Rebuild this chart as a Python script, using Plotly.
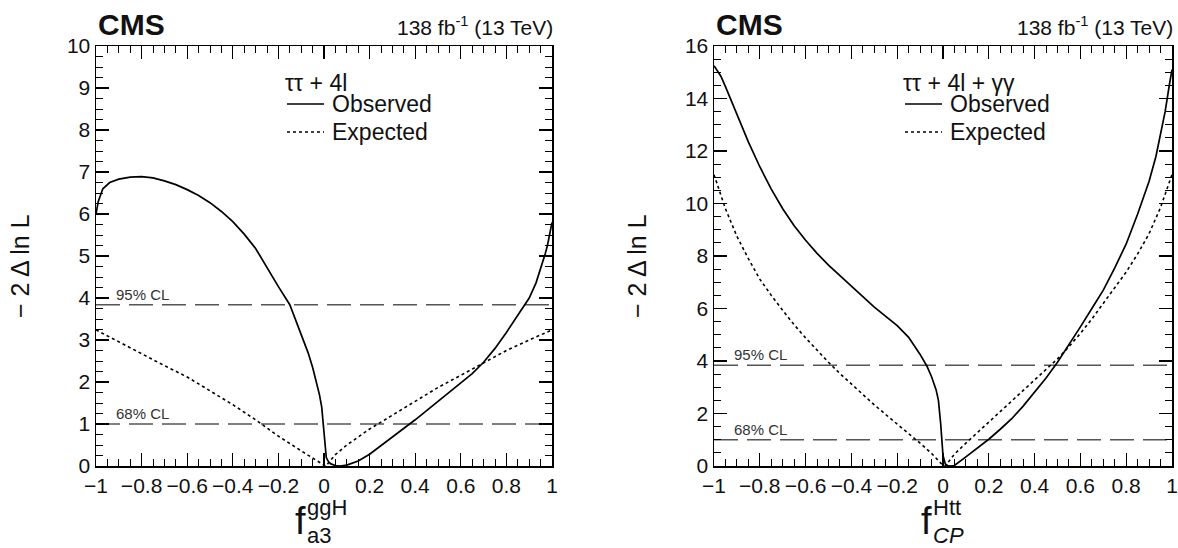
import plotly.graph_objects as go
from plotly.subplots import make_subplots

# ---------------- data ----------------
# Left panel: f_a3^ggH scan (tautau + 4l)
left_obs_x = [-1.0, -0.99, -0.97, -0.94, -0.9, -0.85, -0.8, -0.75, -0.7, -0.65, -0.6, -0.55, -0.5,
              -0.45, -0.4, -0.35, -0.3, -0.25, -0.2, -0.15, -0.1, -0.07, -0.05, -0.03, -0.02, -0.01,
              -0.005, 0.0, 0.005, 0.01, 0.02, 0.03, 0.05, 0.07, 0.1, 0.15, 0.2, 0.25, 0.3, 0.35,
              0.4, 0.45, 0.5, 0.55, 0.6, 0.65, 0.7, 0.75, 0.8, 0.85, 0.9, 0.93, 0.95, 0.97, 0.98,
              0.99, 1.0]
left_obs_y = [6.0, 6.3, 6.6, 6.75, 6.83, 6.88, 6.89, 6.86, 6.79, 6.7, 6.58, 6.44, 6.27,
              6.06, 5.82, 5.52, 5.18, 4.72, 4.27, 3.84, 3.15, 2.7, 2.35, 1.95, 1.7, 1.4,
              1.1, 0.7, 0.35, 0.2, 0.1, 0.05, 0.01, 0.0, 0.02, 0.12, 0.28, 0.48, 0.7, 0.9,
              1.1, 1.32, 1.54, 1.76, 1.98, 2.2, 2.47, 2.8, 3.18, 3.58, 4.0, 4.36, 4.68, 5.05, 5.25,
              5.5, 5.8]
left_exp_x = [-1.0, -0.9, -0.8, -0.7, -0.6, -0.5, -0.4, -0.3, -0.2, -0.1, -0.05, 0.0, 0.01,
              0.02, 0.05, 0.1, 0.2, 0.3, 0.4, 0.5, 0.6, 0.7, 0.8, 0.9, 1.0]
left_exp_y = [3.24, 2.95, 2.66, 2.39, 2.12, 1.8, 1.46, 1.1, 0.71, 0.36, 0.18, 0.02, 0.0,
              0.08, 0.27, 0.5, 0.88, 1.21, 1.54, 1.87, 2.16, 2.45, 2.75, 3.0, 3.24]

# Right panel: f_CP^Htt scan (tautau + 4l + gammagamma)
right_obs_x = [-1.0, -0.97, -0.95, -0.9, -0.85, -0.8, -0.75, -0.7, -0.65, -0.6, -0.55, -0.5,
               -0.45, -0.4, -0.35, -0.3, -0.25, -0.2, -0.15, -0.1, -0.07, -0.05, -0.03, -0.02,
               -0.01, -0.005, 0.0, 0.01, 0.02, 0.03, 0.05, 0.1, 0.15, 0.2, 0.25, 0.3, 0.35, 0.4,
               0.45, 0.5, 0.55, 0.6, 0.65, 0.7, 0.75, 0.8, 0.85, 0.9, 0.93, 0.95, 0.97, 0.99, 1.0]
right_obs_y = [15.25, 14.85, 14.45, 13.4, 12.35, 11.4, 10.55, 9.8, 9.15, 8.6, 8.1, 7.65,
               7.25, 6.85, 6.45, 6.05, 5.7, 5.35, 4.9, 4.25, 3.8, 3.4, 2.9, 2.5,
               1.6, 1.0, 0.4, 0.08, 0.02, 0.0, 0.02, 0.35, 0.68, 1.02, 1.4, 1.8, 2.28, 2.8,
               3.35, 3.95, 4.6, 5.3, 6.0, 6.7, 7.55, 8.46, 9.6, 10.85, 11.8, 12.6, 13.5, 14.6, 15.1]
right_exp_x = [-1.0, -0.97, -0.95, -0.9, -0.85, -0.8, -0.75, -0.7, -0.65, -0.6, -0.55, -0.5,
               -0.45, -0.4, -0.35, -0.3, -0.25, -0.2, -0.15, -0.1, -0.05, -0.02, 0.0, 0.01,
               0.02, 0.05, 0.1, 0.15, 0.2, 0.25, 0.3, 0.35, 0.4, 0.45, 0.5, 0.55, 0.6, 0.65,
               0.7, 0.75, 0.8, 0.85, 0.9, 0.95, 1.0]
right_exp_y = [11.1, 10.3, 9.8, 8.75, 7.9, 7.12, 6.5, 5.93, 5.38, 4.88, 4.4, 3.95,
               3.52, 3.12, 2.72, 2.33, 1.96, 1.6, 1.22, 0.87, 0.48, 0.2, 0.02, 0.0,
               0.12, 0.45, 0.87, 1.27, 1.66, 2.06, 2.46, 2.86, 3.26, 3.66, 4.08, 4.55, 5.05, 5.6,
               6.19, 6.78, 7.39, 8.08, 8.85, 9.85, 11.1]

cl_levels = [1.0, 3.84]
cl_labels = ["68% CL", "95% CL"]
x_range = [-1.0, 1.0]
x_tickvals = [-1.0, -0.8, -0.6, -0.4, -0.2, 0.0, 0.2, 0.4, 0.6, 0.8, 1.0]
x_ticktext = ["\u22121", "\u22120.8", "\u22120.6", "\u22120.4", "\u22120.2", "0",
              "0.2", "0.4", "0.6", "0.8", "1"]
left_yrange = [0, 10]
right_yrange = [0, 16]
legend_titles = ["\u03c4\u03c4 + 4l", "\u03c4\u03c4 + 4l + \u03b3\u03b3"]
series_names = ["Observed", "Expected"]

# ---------------- figure ----------------
W, H = 1178, 548
FONT = "Liberation Sans, Arial, Helvetica, sans-serif"
TXT = "#111111"
MT, MB = 46, H - 466
PH = H - MT - MB


def px(x):
    return x / W


def py(y):
    return (H - MB - y) / PH


fig = make_subplots(rows=1, cols=2)

panels = [
    dict(col=1, ox=left_obs_x, oy=left_obs_y, ex=left_exp_x, ey=left_exp_y),
    dict(col=2, ox=right_obs_x, oy=right_obs_y, ex=right_exp_x, ey=right_exp_y),
]

for p in panels:
    for lvl in cl_levels:
        fig.add_trace(go.Scatter(x=x_range, y=[lvl, lvl], mode="lines",
                                 line=dict(color="#555555", width=1.6, dash="24px,9px"),
                                 showlegend=False, hoverinfo="skip"),
                      row=1, col=p["col"])
    fig.add_trace(go.Scatter(x=p["ox"], y=p["oy"], mode="lines", name=series_names[0],
                             line=dict(color="black", width=1.7),
                             showlegend=False), row=1, col=p["col"])
    fig.add_trace(go.Scatter(x=p["ex"], y=p["ey"], mode="lines", name=series_names[1],
                             line=dict(color="black", width=1.6, dash="dot"),
                             showlegend=False), row=1, col=p["col"])

axis_common = dict(showline=True, linecolor="black", linewidth=1.5, mirror="allticks",
                   ticks="inside", ticklen=13, tickwidth=1.2, tickcolor="black",
                   showgrid=False, zeroline=False, automargin=False,
                   tickfont=dict(family=FONT, size=21, color=TXT))

fig.update_xaxes(**axis_common, range=x_range, tickvals=x_tickvals, ticktext=x_ticktext,
                 minor=dict(ticks="inside", ticklen=7, tickwidth=1, tickcolor="black",
                            dtick=0.05, showgrid=False))
fig.update_xaxes(domain=[px(96), px(552)], row=1, col=1)
fig.update_xaxes(domain=[px(714), px(1172)], row=1, col=2)

fig.update_yaxes(**axis_common, domain=[0, 1])
fig.update_yaxes(range=left_yrange, tickvals=list(range(0, 11)), row=1, col=1,
                 minor=dict(ticks="inside", ticklen=7, tickwidth=1, tickcolor="black",
                            dtick=0.25, showgrid=False))
fig.update_yaxes(range=right_yrange, tickvals=list(range(0, 17, 2)), row=1, col=2,
                 minor=dict(ticks="inside", ticklen=7, tickwidth=1, tickcolor="black",
                            dtick=0.5, showgrid=False))

ann = []
shapes = []
for xl, xr in [(96, 552), (714, 1172)]:
    ann.append(dict(x=px(xl), y=py(25), xref="paper", yref="paper", text="<b>CMS</b>",
                    showarrow=False, xanchor="left", yanchor="middle",
                    font=dict(family=FONT, size=30, color=TXT)))
    ann.append(dict(x=px(xr + 3), y=py(26), xref="paper", yref="paper",
                    text="138 fb<sup>-1</sup> (13 TeV)",
                    showarrow=False, xanchor="right", yanchor="middle",
                    font=dict(family=FONT, size=21, color=TXT)))

# y axis titles
for xc in [20, 637]:
    ann.append(dict(x=px(xc), y=py(266), xref="paper", yref="paper",
                    text="\u2212 2 \u0394 ln L", textangle=-90, showarrow=False,
                    xanchor="center", yanchor="middle",
                    font=dict(family=FONT, size=25, color=TXT)))

# x axis titles (f with stacked super/subscripts)
for fx, sup, sub, subit in [(300, "ggH", "a3", False), (926, "Htt", "CP", True)]:
    ann.append(dict(x=px(fx), y=py(521), xref="paper", yref="paper", text="f",
                    showarrow=False, xanchor="center", yanchor="middle",
                    font=dict(family=FONT, size=38, color=TXT)))
    ann.append(dict(x=px(fx + 5), y=py(507), xref="paper", yref="paper", text=sup,
                    showarrow=False, xanchor="left", yanchor="middle",
                    font=dict(family=FONT, size=22, color=TXT)))
    ann.append(dict(x=px(fx + 5), y=py(535), xref="paper", yref="paper",
                    text=("<i>%s</i>" % sub) if subit else sub,
                    showarrow=False, xanchor="left", yanchor="middle",
                    font=dict(family=FONT, size=22, color=TXT)))

# CL labels
for xref, yref in [("x", "y"), ("x2", "y2")]:
    for lvl, lab in zip(cl_levels, cl_labels):
        ann.append(dict(x=-0.92, y=lvl, xref=xref, yref=yref, text=lab, showarrow=False,
                        xanchor="left", yanchor="bottom", yshift=0,
                        font=dict(family=FONT, size=15, color="#333333")))

# legends (header + two entries per panel)
for lx, title in [(283, legend_titles[0]), (901, legend_titles[1])]:
    ann.append(dict(x=px(lx), y=py(83), xref="paper", yref="paper", text=title,
                    showarrow=False, xanchor="left", yanchor="middle",
                    font=dict(family=FONT, size=23, color=TXT)))
    for name, ly, dash in [(series_names[0], 104, "solid"), (series_names[1], 132, "dot")]:
        ann.append(dict(x=px(lx + 47), y=py(ly), xref="paper", yref="paper", text=name,
                        showarrow=False, xanchor="left", yanchor="middle",
                        font=dict(family=FONT, size=23, color=TXT)))
        shapes.append(dict(type="line", xref="paper", yref="paper",
                           x0=px(lx + 4), x1=px(lx + 41), y0=py(ly), y1=py(ly),
                           line=dict(color="black", width=1.6, dash=dash)))

fig.update_layout(
    width=W, height=H,
    margin=dict(l=0, r=0, t=MT, b=MB, autoexpand=False),
    paper_bgcolor="white", plot_bgcolor="white",
    font=dict(family=FONT, color="black"),
    annotations=ann, shapes=shapes,
    showlegend=False, hovermode=False,
)

fig.write_html("out.html",
               config={"displayModeBar": False, "staticPlot": True},
               post_script="document.body.style.margin='0px';"
                           "document.documentElement.style.overflow='hidden';")
